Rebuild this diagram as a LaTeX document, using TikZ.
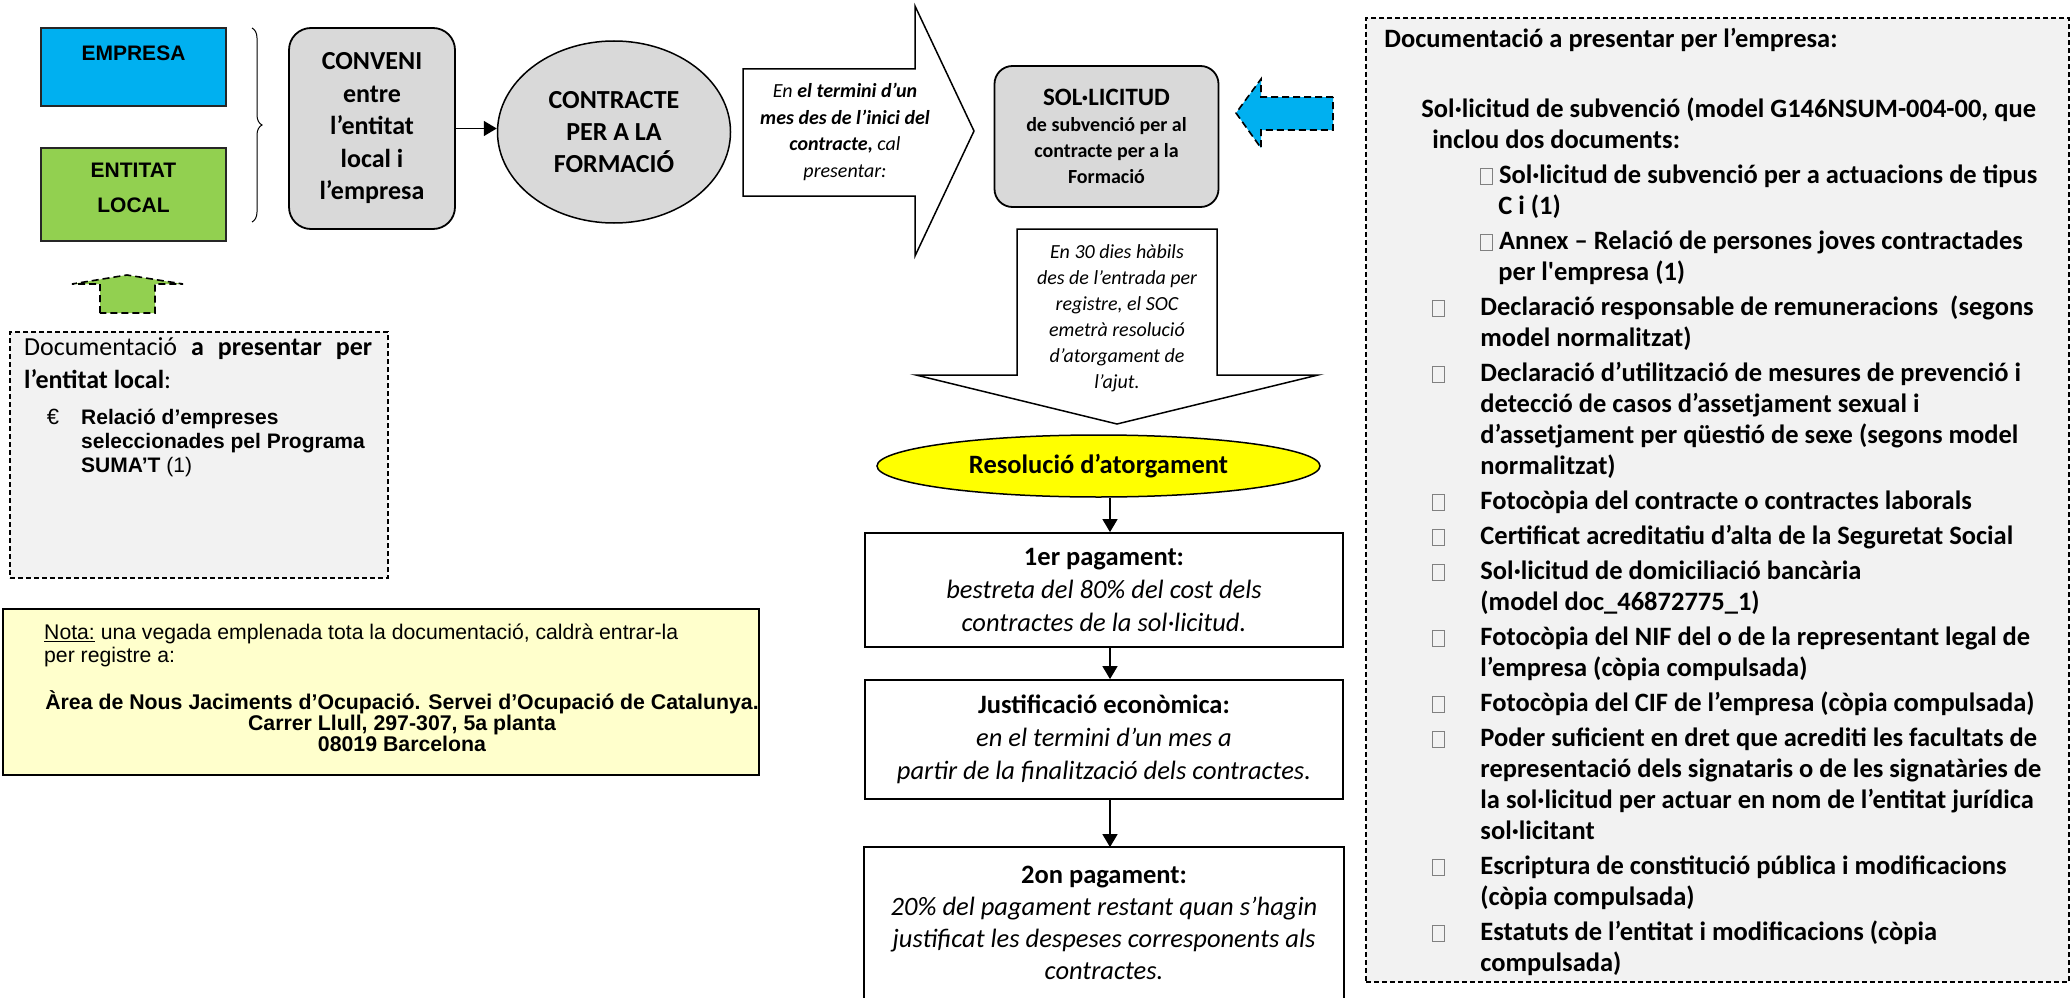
\documentclass[tikz,border=0pt]{standalone}
\usepackage{fontspec}
\setmainfont{Carlito}
\newfontfamily\arialfont{Liberation Sans}
\usetikzlibrary{shapes.geometric,decorations.pathreplacing,arrows.meta,calc}
\definecolor{empresacolor}{HTML}{00B0F0}
\definecolor{entitatcolor}{HTML}{92D050}
\definecolor{processcolor}{HTML}{D9D9D9}
\definecolor{docscolor}{HTML}{F2F2F2}
\definecolor{notacolor}{HTML}{FFFFCC}
\definecolor{resolcolor}{HTML}{FFFF00}
\newcommand{\fsz}[2]{\fontsize{#1}{#2}\selectfont}
\newcommand{\tofu}{% missing bullet glyph
{\color{black!50}\setlength{\fboxsep}{0pt}\setlength{\fboxrule}{0.8pt}\fbox{\hspace{11pt}\rule{0pt}{15pt}}}}
\tikzstyle{partybox} = [
    draw=black!85,
    line width=1.8pt,
    rectangle,
    minimum width=185pt,
    align=center,
    font=\arialfont\bfseries\fsz{21}{35}
    ]
\tikzstyle{processbox} = [
    draw=black,
    fill=processcolor,
    line width=1.8pt,
    rectangle,
    rounded corners=20pt,
    align=center
    ]
\tikzstyle{flowbox} = [
    draw=black,
    line width=1.8pt,
    rectangle,
    minimum width=478pt,
    align=center,
    font=\fsz{26.5}{33}
    ]
\tikzstyle{docsbox} = [
    draw=black,
    fill=docscolor,
    line width=2.2pt,
    dash pattern=on 5pt off 3pt,
    rectangle
    ]
\tikzstyle{dashedarrow} = [
    draw=black,
    line width=1.6pt,
    dash pattern=on 7pt off 4pt
    ]
\tikzstyle{flowarrow} = [
    -{Triangle[length=13pt,width=15pt]},
    line width=1.5pt
    ]

\begin{document}
\begin{tikzpicture}[x=1pt,y=-1pt]
\useasboundingbox (0,0) rectangle (2072,998);

% who signs
\node[partybox, fill=empresacolor, minimum height=78pt] (empresa) at (133.5,67) {EMPRESA\\[-8pt]\mbox{}};
\node[partybox, fill=entitatcolor, minimum height=93pt] (entitat) at (133.5,194.5) {ENTITAT\\LOCAL\\[-21pt]\mbox{}};
\draw[line width=1pt, decorate, decoration={brace, amplitude=10pt}] (252,28) -- (252,222);

\node[processbox, minimum width=166pt, minimum height=201pt, rounded corners=22pt,
      font=\bfseries\fsz{26}{32.5}] (conveni) at (372,128.5)
      {CONVENI\\entre\\l’entitat\\local i\\l’empresa};
\node[ellipse, draw=black, line width=1.5pt, fill=processcolor, minimum width=233pt,
      minimum height=182pt, align=center, font=\bfseries\fsz{26}{32}] (contracte) at (614,132)
      {CONTRACTE\\PER A LA\\FORMACIÓ};
\draw[flowarrow] (conveni.east) -- (conveni.east -| contracte.west);

% deadline arrow
\draw[line width=1.5pt, fill=white] (743,69) -- (915,69) -- (915,6) -- (974,131)
    -- (915,256) -- (915,196) -- (743,196) -- cycle;
\node[align=center, font=\itshape\fsz{20}{26.5}] (termini) at (845,132)
    {En \textbf{el termini d’un}\\\textbf{mes des de l’inici del}\\\textbf{contracte,} cal\\presentar:};

\node[processbox, minimum width=224pt, minimum height=141pt, rounded corners=18pt,
      font=\bfseries\fsz{20}{26}] (sollicitud) at (1106.5,136.5)
      {{\fsz{25}{28}SOL·LICITUD}\\de subvenció per al\\contracte per a la\\Formació};
\draw[dashedarrow, fill=empresacolor] (1333,97) -- (1261,97) -- (1261,79) -- (1236,113)
    -- (1261,148) -- (1261,130) -- (1333,130) -- cycle;

% 30 days arrow
\draw[line width=1.5pt, fill=white] (1017,229) -- (1217,229) -- (1217,375) -- (1318,375)
    -- (1117,424) -- (916,375) -- (1017,375) -- cycle;
\node[align=center, font=\itshape\fsz{20}{26}] (dies) at (1117,318)
    {En 30 dies hàbils\\des de l’entrada per\\registre, el SOC\\emetrà resolució\\d’atorgament de\\l’ajut.};

% payments
\node[ellipse, draw=black, line width=1.5pt, fill=resolcolor, minimum width=443pt,
      minimum height=62pt, font=\bfseries\fsz{26.5}{30}] (resolucio) at (1098.5,466) {Resolució d’atorgament};
\node[flowbox, minimum height=114pt] (pagament1) at (1104,590)
    {\textbf{1er pagament:}\\\textit{bestreta del 80\% del cost dels}\\\textit{contractes de la sol·licitud.}};
\node[flowbox, minimum height=119pt] (justificacio) at (1104,739.5)
    {\textbf{Justificació econòmica:}\\\textit{en el termini d’un mes a}\\\textit{partir de la finalització dels contractes.}};
\node[flowbox, draw=none, minimum height=150pt, font=\fsz{26.5}{32}] (pagament2) at (1104,923)
    {\textbf{2on pagament:}\\\textit{20\% del pagament restant quan s’hagin}\\\textit{justificat les despeses corresponents als}\\\textit{contractes.}};
\draw[line width=1.8pt] (pagament2.south west) -- (pagament2.north west)
    -- (pagament2.north east) -- (pagament2.south east);
\draw[flowarrow] (resolucio.south -| pagament1.north) ++(6,0) -- ([xshift=6pt]pagament1.north);
\draw[flowarrow] ([xshift=6pt]pagament1.south) -- ([xshift=6pt]justificacio.north);
\draw[flowarrow] ([xshift=6pt]justificacio.south) -- ([xshift=6pt]pagament2.north);

% documents of the company
\node[docsbox, minimum width=703pt, minimum height=964pt] (empdocs) at (1717.5,500) {};
\node[anchor=north west, align=left, font=\bfseries\fsz{26.5}{31}] (empdocslist)
    at ($(empdocs.north west)+(16,8)$) {%
Documentació a presentar per l’empresa:\\[39pt]
\hspace*{37pt}Sol·licitud de subvenció (model G146NSUM-004-00, que\\
\hspace*{48pt}inclou dos documents:\\[4pt]
\hspace*{96pt}\tofu\ Sol·licitud de subvenció per a actuacions de tipus\\
\hspace*{114pt}C i (1)\\[4pt]
\hspace*{96pt}\tofu\ Annex – Relació de persones joves contractades\\
\hspace*{114pt}per l\textquotesingle empresa (1)\\[4pt]
\hspace*{48pt}\makebox[48pt][l]{\tofu}Declaració responsable de remuneracions\ \ (segons\\
\hspace*{96pt}model normalitzat)\\[4pt]
\hspace*{48pt}\makebox[48pt][l]{\tofu}Declaració d’utilització de mesures de prevenció i\\
\hspace*{96pt}detecció de casos d’assetjament sexual i\\
\hspace*{96pt}d’assetjament per qüestió de sexe (segons model\\
\hspace*{96pt}normalitzat)\\[4pt]
\hspace*{48pt}\makebox[48pt][l]{\tofu}Fotocòpia del contracte o contractes laborals\\[4pt]
\hspace*{48pt}\makebox[48pt][l]{\tofu}Certificat acreditatiu d’alta de la Seguretat Social\\[4pt]
\hspace*{48pt}\makebox[48pt][l]{\tofu}Sol·licitud de domiciliació bancària\\
\hspace*{96pt}(model doc\_46872775\_1)\\[4pt]
\hspace*{48pt}\makebox[48pt][l]{\tofu}Fotocòpia del NIF del o de la representant legal de\\
\hspace*{96pt}l’empresa (còpia compulsada)\\[4pt]
\hspace*{48pt}\makebox[48pt][l]{\tofu}Fotocòpia del CIF de l’empresa (còpia compulsada)\\[4pt]
\hspace*{48pt}\makebox[48pt][l]{\tofu}Poder suficient en dret que acrediti les facultats de\\
\hspace*{96pt}representació dels signataris o de les signatàries de\\
\hspace*{96pt}la sol·licitud per actuar en nom de l’entitat jurídica\\
\hspace*{96pt}sol·licitant\\[4pt]
\hspace*{48pt}\makebox[48pt][l]{\tofu}Escriptura de constitució pública i modificacions\\
\hspace*{96pt}(còpia compulsada)\\[4pt]
\hspace*{48pt}\makebox[48pt][l]{\tofu}Estatuts de l’entitat i modificacions (còpia\\
\hspace*{96pt}compulsada)};

% documents of the local entity
\draw[dashedarrow, fill=entitatcolor] (100,313) -- (100,284) -- (72,284) -- (127,275)
    -- (183,284) -- (155,284) -- (155,313) -- cycle;
\node[docsbox, line width=1.8pt, minimum width=378pt, minimum height=246pt] (entdocs) at (199,455) {};
\node[anchor=north west, text width=348pt, align=justify, inner sep=0pt, font=\fsz{26}{33}]
    (entdocstitle) at (24,337) {Documentació \textbf{a presentar per\linebreak l’entitat local}:};
\node[font=\arialfont\fsz{22}{24}] (euro) at (53,417) {€};
\node[anchor=north west, align=left, inner sep=0pt, font=\arialfont\bfseries\fsz{21}{24}]
    (entdocsitem) at (81,409) {Relació d’empreses\\seleccionades pel Programa\\SUMA’T \textmd{(1)}};

% note
\node[draw=black, line width=1.5pt, fill=notacolor, minimum width=756pt, minimum height=166pt] (nota) at (381,692) {};
\node[anchor=north west, align=left, inner sep=0pt, font=\arialfont\fsz{21.2}{23}] (notatext) at (44,624)
    {\underline{Nota:} una vegada emplenada tota la documentació, caldrà entrar-la\\per registre a:};
\node[align=center, font=\arialfont\bfseries\fsz{21.3}{19}] (notaadreca) at (402,721)
    {Àrea de Nous Jaciments d’Ocupació. Servei d’Ocupació de Catalunya.\\Carrer Llull, 297-307, 5a planta\\08019 Barcelona};
\end{tikzpicture}
\end{document}
